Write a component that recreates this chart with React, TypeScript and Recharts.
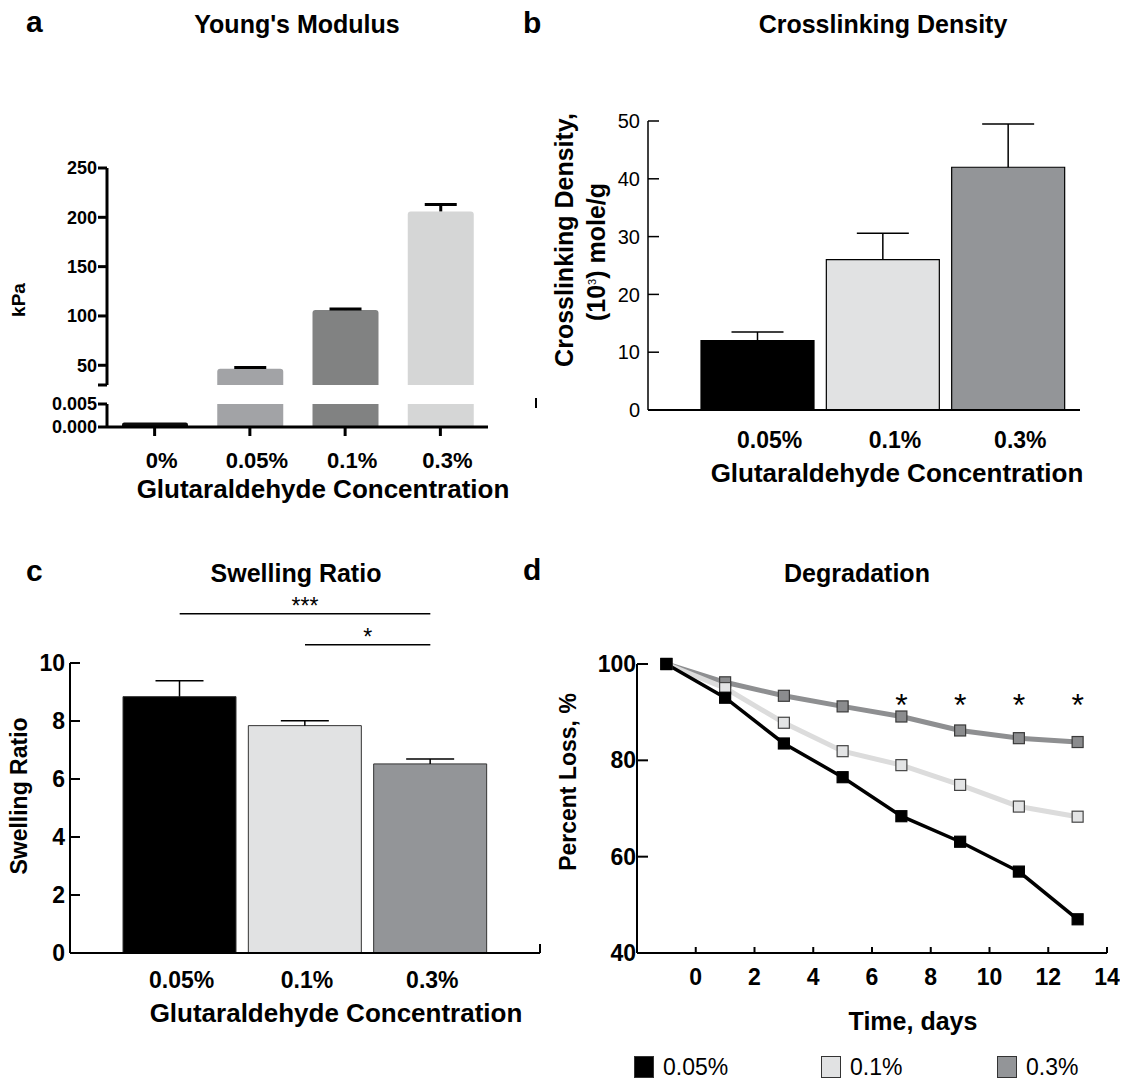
import React from "react";
import {
  BarChart,
  Bar,
  Cell,
  XAxis,
  YAxis,
  ReferenceLine,
  ComposedChart,
  Line,
  Scatter,
  Legend,
} from "recharts";

const FONT = "'Liberation Sans', Arial, Helvetica, sans-serif";

// a: Young's modulus, kPa (broken axis)
const modCats = ["0%", "0.05%", "0.1%", "0.3%"];
const modMean = [0.001, 46.5, 106, 206];
const modErr = [0, 1.2, 1, 7];
const modColors = ["#0c0c0c", "#a2a3a6", "#818282", "#d5d6d6"];
const modTicksTop = [30, 50, 100, 150, 200, 250];
const modTicksLow = [0, 0.005];

// b: crosslinking density, (10^3) mole/g
const gaCats = ["0.05%", "0.1%", "0.3%"];
const xlMean = [12, 26, 42];
const xlErr = [1.5, 4.6, 7.5];
const xlTicks = [0, 10, 20, 30, 40, 50];

// c: swelling ratio
const swMean = [8.84, 7.84, 6.52];
const swErr = [0.55, 0.17, 0.17];
const swTicks = [0, 2, 4, 6, 8, 10];
const sigLines = [
  { from: "0.05%", to: "0.3%", y: 11.7, mark: "***" },
  { from: "0.1%", to: "0.3%", y: 10.63, mark: "*" },
];

const barColors = ["#000000", "#e1e2e3", "#939598"];

// d: degradation
const days = [-1, 1, 3, 5, 7, 9, 11, 13];
const loss005 = [100, 93.0, 83.5, 76.5, 68.4, 63.1, 56.9, 47.0];
const loss01 = [100, 95.0, 87.8, 81.9, 79.0, 74.9, 70.4, 68.3];
const loss03 = [100, 96.2, 93.4, 91.2, 89.1, 86.2, 84.6, 83.8];
const sigDays = [7, 9, 11, 13];
const sigLevel = 93;
const dayTicks = [0, 2, 4, 6, 8, 10, 12, 14];
const lossTicks = [40, 60, 80, 100];
const seriesNames = ["0.05%", "0.1%", "0.3%"];
const legendFill = ["#000000", "#e1e2e3", "#939598"];
const legendLeft = [0, 187, 363];

const modData = modCats.map((cat, i) => ({ cat, mean: modMean[i], err: modErr[i] }));
const xlData = gaCats.map((cat, i) => ({ cat, mean: xlMean[i], err: xlErr[i] }));
const swData = gaCats.map((cat, i) => ({ cat, mean: swMean[i], err: swErr[i] }));
const degData = days.map((day, i) => ({ day, s005: loss005[i], s01: loss01[i], s03: loss03[i] }));
const sigData = sigDays.map((day) => ({ day, sig: sigLevel }));

// upper-only error bar drawn on a stacked bar segment
const whisker = (cap: number, sw: number) => (p: any) => {
  const { x, y, width, height } = p;
  if (!height || height <= 0) return <g />;
  const cx = x + width / 2;
  return (
    <g>
      <line x1={cx} x2={cx} y1={y} y2={y + height} stroke="#000" strokeWidth={sw} />
      <line x1={cx - cap / 2} x2={cx + cap / 2} y1={y} y2={y} stroke="#000" strokeWidth={sw} />
    </g>
  );
};

const squareDot = (fill: string, stroke: string) => (p: any) => (
  <rect
    key={`sq-${p.index}`}
    x={p.cx - 5.5}
    y={p.cy - 5.5}
    width={11}
    height={11}
    fill={fill}
    stroke={stroke}
    strokeWidth={1.2}
  />
);

const star = (p: any) => (
  <text x={p.cx} y={p.cy + 18} textAnchor="middle" fontSize={32} fontFamily={FONT} fill="#000">
    *
  </text>
);

const renderLegend = (props: any) => {
  const items = [...(props.payload || [])]
    .filter((it: any) => seriesNames.includes(it.value))
    .sort((a: any, b: any) => seriesNames.indexOf(a.value) - seriesNames.indexOf(b.value));
  return (
    <div style={{ position: "relative", height: 24 }}>
      {items.map((it: any, i: number) => (
        <div
          key={it.value}
          style={{ position: "absolute", left: legendLeft[i], top: 0, display: "flex", alignItems: "center" }}
        >
          <span
            style={{
              display: "inline-block",
              width: 18,
              height: 20,
              background: legendFill[i],
              border: "1px solid #333",
            }}
          />
          <span style={{ marginLeft: 9, fontSize: 23, fontFamily: FONT, color: "#000", lineHeight: "22px" }}>
            {it.value}
          </span>
        </div>
      ))}
    </div>
  );
};

const boldTick = (size: number, extra: any = {}) => ({
  fill: "#000",
  fontSize: size,
  fontWeight: "bold",
  fontFamily: FONT,
  ...extra,
});

export default function App() {
  return (
    <div style={{ position: "absolute", left: 0, top: 0, width: 1122, height: 1084, background: "#fff", fontFamily: FONT }}>
      {/* a, upper segment */}
      <div style={{ position: "absolute", left: 0, top: 150 }}>
        <BarChart width={500} height={250} data={modData} margin={{ top: 18, right: 12, bottom: 15, left: 47 }} barSize={66}>
          <XAxis dataKey="cat" hide />
          <YAxis
            width={60}
            type="number"
            domain={[30, 250]}
            ticks={modTicksTop}
            interval={0}
            allowDataOverflow
            tickFormatter={(v: number) => (v === 30 ? "" : String(v))}
            axisLine={{ stroke: "#000", strokeWidth: 3 }}
            tickLine={{ stroke: "#000", strokeWidth: 3 }}
            tickSize={9}
            tickMargin={1}
            tick={boldTick(18)}
          />
          <Bar dataKey="mean" stackId="m" radius={[3, 3, 0, 0]} isAnimationActive={false}>
            {modData.map((_, i) => (
              <Cell key={i} fill={modColors[i]} />
            ))}
          </Bar>
          <Bar dataKey="err" stackId="m" shape={whisker(32, 3)} isAnimationActive={false} />
        </BarChart>
      </div>
      {/* a, lower segment */}
      <div style={{ position: "absolute", left: 0, top: 395 }}>
        <BarChart width={500} height={92} data={modData} margin={{ top: 9, right: 12, bottom: 0, left: 47 }} barSize={66}>
          <XAxis
            dataKey="cat"
            height={60}
            interval={0}
            axisLine={{ stroke: "#000", strokeWidth: 3 }}
            tickLine={{ stroke: "#000", strokeWidth: 3 }}
            tickSize={9}
            tickMargin={16}
            tick={boldTick(22, { dx: 7 })}
          />
          <YAxis
            width={60}
            type="number"
            domain={[0, 0.005]}
            ticks={modTicksLow}
            interval={0}
            allowDataOverflow
            tickFormatter={(v: number) => v.toFixed(3)}
            axisLine={{ stroke: "#000", strokeWidth: 3 }}
            tickLine={{ stroke: "#000", strokeWidth: 3 }}
            tickSize={9}
            tickMargin={1}
            tick={boldTick(18)}
          />
          <Bar dataKey="mean" radius={[3, 3, 0, 0]} isAnimationActive={false}>
            {modData.map((_, i) => (
              <Cell key={i} fill={modColors[i]} />
            ))}
          </Bar>
        </BarChart>
      </div>

      {/* b */}
      <div style={{ position: "absolute", left: 520, top: 100 }}>
        <BarChart width={560} height={360} data={xlData} margin={{ top: 21, right: 0, bottom: 0, left: 80 }} barSize={113}>
          <XAxis
            dataKey="cat"
            height={50}
            interval={0}
            padding={{ left: 47, right: 9 }}
            axisLine={{ stroke: "#000", strokeWidth: 2 }}
            tickLine={false}
            tickSize={0}
            tickMargin={22}
            tick={boldTick(23, { dx: 12 })}
          />
          <YAxis
            width={48}
            type="number"
            domain={[0, 50]}
            ticks={xlTicks}
            interval={0}
            axisLine={{ stroke: "#000", strokeWidth: 1.5 }}
            tickLine={{ stroke: "#000", strokeWidth: 1.5 }}
            tickSize={-11}
            tickMargin={19}
            tick={{ fill: "#000", fontSize: 20, fontFamily: FONT }}
          />
          <Bar dataKey="mean" stackId="x" stroke="#000" strokeWidth={1.2} isAnimationActive={false}>
            {xlData.map((_, i) => (
              <Cell key={i} fill={barColors[i]} />
            ))}
          </Bar>
          <Bar dataKey="err" stackId="x" shape={whisker(52, 1.5)} isAnimationActive={false} />
        </BarChart>
      </div>

      {/* c */}
      <div style={{ position: "absolute", left: 0, top: 590 }}>
        <BarChart width={540} height={423} data={swData} margin={{ top: 73, right: 0, bottom: 0, left: 20 }} barSize={113}>
          <XAxis
            dataKey="cat"
            height={60}
            interval={0}
            padding={{ left: 47, right: 47 }}
            axisLine={{ stroke: "#000", strokeWidth: 2 }}
            tickLine={false}
            tickSize={0}
            tickMargin={19}
            tick={boldTick(23, { dx: 2 })}
          />
          <YAxis
            width={50}
            type="number"
            domain={[0, 10]}
            ticks={swTicks}
            interval={0}
            axisLine={{ stroke: "#000", strokeWidth: 2 }}
            tickLine={{ stroke: "#000", strokeWidth: 2 }}
            tickSize={-10}
            tickMargin={15}
            tick={boldTick(23)}
          />
          {sigLines.map((s) => (
            <ReferenceLine
              key={s.mark}
              segment={[
                { x: s.from, y: s.y },
                { x: s.to, y: s.y },
              ]}
              ifOverflow="visible"
              stroke="#000"
              strokeWidth={1.5}
              label={{ value: s.mark, position: "top", offset: 0, fill: "#000", fontSize: 23, fontFamily: FONT }}
            />
          ))}
          <Bar dataKey="mean" stackId="s" stroke="#333" strokeWidth={1} isAnimationActive={false}>
            {swData.map((_, i) => (
              <Cell key={i} fill={barColors[i]} />
            ))}
          </Bar>
          <Bar dataKey="err" stackId="s" shape={whisker(48, 1.5)} isAnimationActive={false} />
        </BarChart>
      </div>

      {/* d */}
      <div style={{ position: "absolute", left: 560, top: 640 }}>
        <ComposedChart width={560} height={358} data={degData} margin={{ top: 24, right: 13, bottom: 0, left: 27 }}>
          <XAxis
            dataKey="day"
            type="number"
            domain={[-2, 14]}
            ticks={dayTicks}
            interval={0}
            allowDataOverflow
            height={45}
            axisLine={{ stroke: "#000", strokeWidth: 2 }}
            tickLine={{ stroke: "#000", strokeWidth: 2 }}
            tickSize={-6}
            tickMargin={22}
            tick={boldTick(23)}
          />
          <YAxis
            width={50}
            type="number"
            domain={[40, 100]}
            ticks={lossTicks}
            interval={0}
            axisLine={{ stroke: "#000", strokeWidth: 2 }}
            tickLine={{ stroke: "#000", strokeWidth: 2 }}
            tickSize={-11}
            tickMargin={12}
            tick={boldTick(23)}
          />
          <Line
            type="linear"
            dataKey="s03"
            name="0.3%"
            stroke="#8e8f91"
            strokeWidth={5}
            dot={squareDot("#8b8c8e", "#3a3a3a")}
            isAnimationActive={false}
          />
          <Line
            type="linear"
            dataKey="s01"
            name="0.1%"
            stroke="#dcdcdc"
            strokeWidth={5}
            dot={squareDot("#e3e4e5", "#444")}
            isAnimationActive={false}
          />
          <Line
            type="linear"
            dataKey="s005"
            name="0.05%"
            stroke="#000"
            strokeWidth={3.5}
            dot={squareDot("#000", "#000")}
            isAnimationActive={false}
          />
          <Scatter data={sigData} dataKey="sig" shape={star} legendType="none" isAnimationActive={false} />
          <Legend
            layout="horizontal"
            verticalAlign="middle"
            align="center"
            wrapperStyle={{ left: 74, top: 416, width: 480 }}
            content={renderLegend}
          />
        </ComposedChart>
      </div>

      {/* panel letters, titles, axis titles */}
      <svg width={1122} height={1084} style={{ position: "absolute", left: 0, top: 0, pointerEvents: "none" }}>
        <g fontFamily={FONT} fontWeight="bold" fill="#000">
          <text x={26} y={32} fontSize={30}>a</text>
          <text x={523} y={33} fontSize={30}>b</text>
          <text x={26} y={581} fontSize={30}>c</text>
          <text x={523} y={580} fontSize={30}>d</text>

          <text x={297} y={33} fontSize={25} textAnchor="middle">Young's Modulus</text>
          <text x={883} y={33} fontSize={25} textAnchor="middle">Crosslinking Density</text>
          <text x={296} y={582} fontSize={25} textAnchor="middle">Swelling Ratio</text>
          <text x={857} y={582} fontSize={25} textAnchor="middle">Degradation</text>

          <text x={25} y={300} fontSize={19} textAnchor="middle" transform="rotate(-90 25 300)">kPa</text>
          <text x={323} y={498} fontSize={26} textAnchor="middle">Glutaraldehyde Concentration</text>

          <text x={573} y={240} fontSize={25} textAnchor="middle" transform="rotate(-90 573 240)">
            Crosslinking Density,
          </text>
          <text x={605} y={252} fontSize={25} textAnchor="middle" transform="rotate(-90 605 252)">
            (10<tspan dy={-9} fontSize={11} fontWeight="normal">3</tspan>
            <tspan dy={9}>) mole/g</tspan>
          </text>
          <text x={897} y={482} fontSize={26} textAnchor="middle">Glutaraldehyde Concentration</text>

          <text x={27} y={796} fontSize={23} textAnchor="middle" transform="rotate(-90 27 796)">Swelling Ratio</text>
          <text x={336} y={1022} fontSize={26} textAnchor="middle">Glutaraldehyde Concentration</text>

          <text x={576} y={782} fontSize={23} textAnchor="middle" transform="rotate(-90 576 782)">Percent Loss, %</text>
          <text x={913} y={1030} fontSize={25} textAnchor="middle">Time, days</text>
        </g>
        {/* small stray marks present in the figure */}
        <line x1={536} x2={536} y1={398} y2={408} stroke="#000" strokeWidth={2} />
        <line x1={540} x2={540} y1={944} y2={953} stroke="#000" strokeWidth={2} />
      </svg>
    </div>
  );
}
